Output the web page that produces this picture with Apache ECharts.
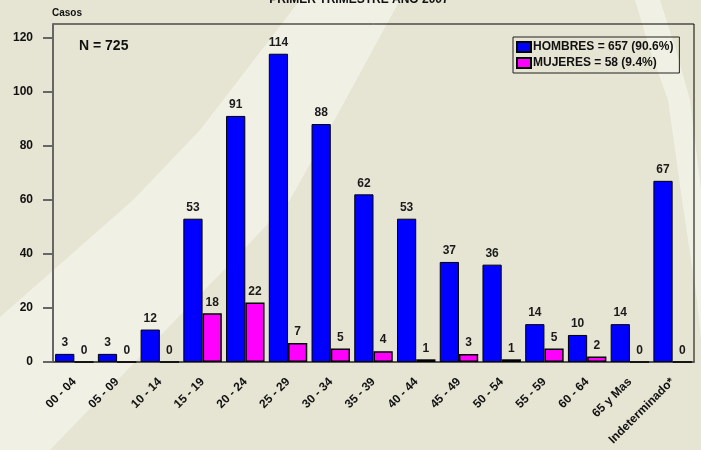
<!DOCTYPE html>
<html>
<head>
<meta charset="utf-8">
<script src="https://cdn.jsdelivr.net/npm/echarts@6/dist/echarts.min.js"></script>
<style>
html,body{margin:0;padding:0;background:#E6E4D3;}
#chart{width:701px;height:450px;}
</style>
</head>
<body>
<div id="chart"></div>
<script>
var categories = ['00 - 04','05 - 09','10 - 14','15 - 19','20 - 24','25 - 29','30 - 34','35 - 39','40 - 44','45 - 49','50 - 54','55 - 59','60 - 64','65 y Mas','Indeterminado*'];
var hombres = [3,3,12,53,91,114,88,62,53,37,36,14,10,14,67];
var mujeres = [0,0,0,18,22,7,5,4,1,3,1,5,2,0,0];
var seriesNames = ['HOMBRES = 657 (90.6%)','MUJERES = 58 (9.4%)'];
var yTicks = [0,20,40,60,80,100,120];
var titleText = 'PRIMER TRIMESTRE AÑO 2007';
var yAxisTitle = 'Casos';
var totalText = 'N = 725';

var FONT = '"Liberation Sans", Arial, sans-serif';
var chart = echarts.init(document.getElementById('chart'), null, {renderer:'canvas'});

var labelStyle = {show:true, position:'top', distance:5, fontFamily:FONT, fontWeight:'bold', fontSize:12, color:'#1a1a1a'};

chart.setOption({
  backgroundColor:'#E6E4D3',
  animation:false,
  graphic:[
    {type:'polygon', z:-10, silent:true,
     shape:{points:[[300,0],[400,0],[340,110],[290,200],[250,243],[50,450],[0,450],[0,317],[133,200],[200,130]]},
     style:{fill:'#F0F0E4'}},
    {type:'polygon', z:-10, silent:true,
     shape:{points:[[635,0],[660,0],[676,50],[690,100],[701,190],[701,340],[697,300],[682,200],[668,100],[650,50]]},
     style:{fill:'#F0F0E4'}},
    {type:'text', x:359, y:-6, z:10,
     style:{text:titleText, font:'bold 12px ' + FONT, fill:'#111', align:'center', verticalAlign:'top'}},
    {type:'text', left:52, top:8, z:10,
     style:{text:yAxisTitle, font:'bold 10px ' + FONT, fill:'#111'}},
    {type:'text', left:79, top:39, z:10,
     style:{text:totalText, font:'bold 14px ' + FONT, fill:'#111'}}
  ],
  legend:{
    left:513, top:37, orient:'vertical', icon:'rect',
    padding:[4,6,4,3], itemGap:4, itemWidth:14, itemHeight:10,
    borderColor:'#222', borderWidth:1, backgroundColor:'transparent',
    textStyle:{fontFamily:FONT, fontWeight:'bold', fontSize:12, color:'#111', padding:[0,0,0,-3]},
    data:seriesNames
  },
  grid:{left:53, right:7, top:24, bottom:88, show:true, borderColor:'#000', borderWidth:1, backgroundColor:'transparent'},
  xAxis:{
    type:'category', data:categories,
    axisLine:{lineStyle:{color:'#555', width:2}},
    axisTick:{alignWithLabel:true, length:10, lineStyle:{color:'#333', width:1.5}},
    axisLabel:{interval:0, rotate:45, margin:18, fontFamily:FONT, fontWeight:'bold', fontSize:12, color:'#111'}
  },
  yAxis:{
    type:'value', min:0, max:125, interval:20,
    axisLine:{show:true, lineStyle:{color:'#666', width:2}},
    axisTick:{show:true, length:10, customValues:yTicks, lineStyle:{color:'#666', width:2}},
    axisLabel:{customValues:yTicks, margin:20, fontFamily:FONT, fontWeight:'bold', fontSize:12, color:'#111'},
    splitLine:{show:false}
  },
  series:[
    {name:seriesNames[0], type:'bar', data:hombres, barGap:'0%', barCategoryGap:'10%',
     itemStyle:{color:'#0000FF', borderColor:'#000', borderWidth:1}, label:labelStyle},
    {name:seriesNames[1], type:'bar', data:mujeres,
     itemStyle:{color:'#FF00FF', borderColor:'#000', borderWidth:1.5}, label:labelStyle}
  ]
});
</script>
</body>
</html>
